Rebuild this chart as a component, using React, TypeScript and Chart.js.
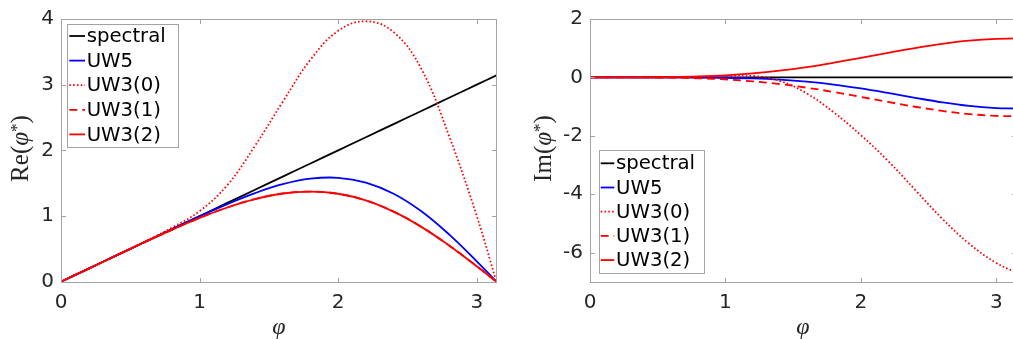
import React, { useEffect, useRef } from "react";
import { Chart, registerables } from "chart.js";

Chart.register(...registerables);

// ---------- data ----------
const phi = [0, 0.2, 0.4, 0.6, 0.8, 1.0, 1.2, 1.4, 1.6, 1.8, 2.0, 2.2, 2.4, 2.6, 2.8, 3.0, 3.1416];

const seriesNames = ["spectral", "UW5", "UW3(0)", "UW3(1)", "UW3(2)"];

// Real parts
const spectralRe = [0, 0.2, 0.4, 0.6, 0.8, 1.0, 1.2, 1.4, 1.6, 1.8, 2.0, 2.2, 2.4, 2.6, 2.8, 3.0, 3.1416];
const uw5Re = [0, 0.2, 0.4, 0.6, 0.799, 0.994, 1.181, 1.349, 1.484, 1.568, 1.582, 1.509, 1.339, 1.072, 0.72, 0.309, 0];
const uw30Re = [0, 0.2, 0.4, 0.607, 0.822, 1.075, 1.47, 2.07, 2.74, 3.38, 3.82, 3.965, 3.8, 3.24, 2.22, 1.0, 0];
const uw31Re = [0, 0.2, 0.4, 0.598, 0.79, 0.971, 1.13, 1.258, 1.343, 1.372, 1.339, 1.237, 1.067, 0.835, 0.552, 0.235, 0];
const uw32Re = [0, 0.2, 0.4, 0.598, 0.79, 0.971, 1.13, 1.258, 1.343, 1.372, 1.339, 1.237, 1.067, 0.835, 0.552, 0.235, 0];

// Imaginary parts
const spectralIm = [0, 0, 0, 0, 0, 0, 0, 0, 0, 0, 0, 0, 0, 0, 0, 0, 0];
const uw5Im = [0, 0, 0, -0.001, -0.004, -0.013, -0.035, -0.076, -0.145, -0.246, -0.379, -0.534, -0.699, -0.854, -0.977, -1.051, -1.067];
const uw30Im = [0, 0, 0, 0.003, 0.012, 0.035, 0.05, -0.12, -0.55, -1.2, -1.98, -2.86, -3.85, -4.84, -5.7, -6.36, -6.67];
const uw31Im = [0, 0, -0.002, -0.01, -0.031, -0.07, -0.136, -0.23, -0.353, -0.502, -0.668, -0.841, -1.006, -1.149, -1.257, -1.32, -1.333];
const uw32Im = [0, 0, 0.002, 0.01, 0.031, 0.07, 0.136, 0.23, 0.353, 0.502, 0.668, 0.841, 1.006, 1.149, 1.257, 1.32, 1.333];

// Ticks
const xTicks = [0, 1, 2, 3];
const reTicks = [0, 1, 2, 3, 4];
const imTicks = [-6, -4, -2, 0, 2];

// ---------- styling ----------
const AXIS_GRAY = "#a3a3a3";
const TICK_TEXT = "#262626";
const SANS = "'DejaVu Sans', sans-serif";
const SERIF = "'Liberation Serif', 'DejaVu Serif', serif";

const lineStyles = [
  { color: "#000000", dash: [] as number[] },
  { color: "#0000ff", dash: [] as number[] },
  { color: "#ff0000", dash: [1.6, 2.2] },
  { color: "#ff0000", dash: [8, 5] },
  { color: "#ff0000", dash: [] as number[] },
];

function makeDatasets(values: number[][]) {
  return values.map((vals, i) => ({
    label: seriesNames[i],
    data: phi.map((x, j) => ({ x, y: vals[j] })),
    borderColor: lineStyles[i].color,
    borderDash: lineStyles[i].dash,
    borderWidth: 1.8,
    pointRadius: 0,
    fill: false,
    tension: 0.4,
    order: 5 - i,
  }));
}

type LegendCfg = {
  left: number; top: number; width: number; height: number;
  s0: number; s1: number; tx: number; row0: number; step: number;
};

type TitleCfg = {
  yName: string; yBaseX: number; yCenterY: number;
  xCenterX: number; xBaseY: number;
};

function drawParts(ctx: CanvasRenderingContext2D, parts: { t: string; font: string; dy: number }[]) {
  let total = 0;
  const widths = parts.map((p) => {
    ctx.font = p.font;
    const w = ctx.measureText(p.t).width;
    total += w;
    return w;
  });
  let x = -total / 2;
  parts.forEach((p, i) => {
    ctx.font = p.font;
    ctx.fillText(p.t, x, p.dy);
    x += widths[i];
  });
}

function makePlugins(legend: LegendCfg, titles: TitleCfg, yTicks: number[]) {
  const boxPlugin = {
    id: "boxAxes",
    afterDatasetsDraw(chart: any) {
      const { ctx, chartArea, scales } = chart;
      const l = Math.round(chartArea.left) + 0.5;
      const r = Math.round(chartArea.right) + 0.5;
      const t = Math.round(chartArea.top) + 0.5;
      const b = Math.round(chartArea.bottom) + 0.5;
      ctx.save();
      ctx.strokeStyle = AXIS_GRAY;
      ctx.lineWidth = 1;
      ctx.setLineDash([]);
      ctx.strokeRect(l, t, r - l, b - t);
      const tl = 4.5;
      ctx.beginPath();
      xTicks.forEach((v) => {
        const px = Math.round(scales.x.getPixelForValue(v)) + 0.5;
        ctx.moveTo(px, b); ctx.lineTo(px, b - tl);
        ctx.moveTo(px, t); ctx.lineTo(px, t + tl);
      });
      yTicks.forEach((v) => {
        const py = Math.round(scales.y.getPixelForValue(v)) + 0.5;
        ctx.moveTo(l, py); ctx.lineTo(l + tl, py);
        ctx.moveTo(r, py); ctx.lineTo(r - tl, py);
      });
      ctx.stroke();
      ctx.restore();
    },
    afterDraw(chart: any) {
      const { ctx } = chart;
      ctx.save();
      // legend
      ctx.fillStyle = "#ffffff";
      ctx.fillRect(legend.left, legend.top, legend.width, legend.height);
      ctx.strokeStyle = AXIS_GRAY;
      ctx.lineWidth = 1;
      ctx.strokeRect(Math.round(legend.left) + 0.5, Math.round(legend.top) + 0.5, Math.round(legend.width), Math.round(legend.height));
      chart.data.datasets.forEach((ds: any, i: number) => {
        const y = legend.top + legend.row0 + i * legend.step;
        ctx.beginPath();
        ctx.strokeStyle = ds.borderColor;
        ctx.lineWidth = 1.8;
        ctx.setLineDash(ds.borderDash || []);
        ctx.moveTo(legend.left + legend.s0, y);
        ctx.lineTo(legend.left + legend.s1, y);
        ctx.stroke();
        ctx.setLineDash([]);
        ctx.fillStyle = "#000000";
        ctx.font = `19.7px ${SANS}`;
        ctx.textAlign = "left";
        ctx.textBaseline = "middle";
        ctx.fillText(ds.label, legend.left + legend.tx, y + 1);
      });
      // y title
      ctx.fillStyle = "#262626";
      ctx.textAlign = "left";
      ctx.textBaseline = "alphabetic";
      ctx.save();
      ctx.translate(titles.yBaseX, titles.yCenterY);
      ctx.rotate(-Math.PI / 2);
      drawParts(ctx, [
        { t: titles.yName + "(", font: `25px ${SERIF}`, dy: 0 },
        { t: "\u03C6", font: `italic 25px ${SERIF}`, dy: 0 },
        { t: "*", font: `17px ${SERIF}`, dy: -6 },
        { t: ")", font: `25px ${SERIF}`, dy: 0 },
      ]);
      ctx.restore();
      // x title
      ctx.save();
      ctx.translate(titles.xCenterX, titles.xBaseY);
      drawParts(ctx, [{ t: "\u03C6", font: `italic 24px ${SERIF}`, dy: 0 }]);
      ctx.restore();
      ctx.restore();
    },
  };
  return [boxPlugin];
}

function makeConfig(
  values: number[][],
  yMin: number, yMax: number, yTicks: number[],
  yAxisWidth: number, padRight: number,
  legend: LegendCfg, titles: TitleCfg
): any {
  return {
    type: "line",
    data: { datasets: makeDatasets(values) },
    options: {
      animation: false,
      responsive: false,
      maintainAspectRatio: false,
      devicePixelRatio: 1,
      layout: { padding: { left: 0, right: padRight, top: 15.3, bottom: 0 } },
      plugins: { legend: { display: false }, tooltip: { enabled: false }, title: { display: false } },
      scales: {
        x: {
          type: "linear",
          min: 0,
          max: Math.PI,
          grid: { display: false, drawTicks: false },
          border: { display: false },
          afterBuildTicks: (s: any) => { s.ticks = xTicks.map((v) => ({ value: v })); },
          afterFit: (s: any) => { s.height = 339 - 281.7; },
          ticks: {
            color: TICK_TEXT,
            font: { family: SANS, size: 20 },
            padding: 9,
            maxRotation: 0,
            autoSkip: false,
          },
        },
        y: {
          type: "linear",
          min: yMin,
          max: yMax,
          grid: { display: false, drawTicks: false },
          border: { display: false },
          afterBuildTicks: (s: any) => { s.ticks = yTicks.map((v) => ({ value: v })); },
          afterFit: (s: any) => { s.width = yAxisWidth; },
          ticks: {
            color: TICK_TEXT,
            font: { family: SANS, size: 20 },
            padding: 7,
            autoSkip: false,
          },
        },
      },
    },
    plugins: makePlugins(legend, titles, yTicks),
  };
}

function Panel(props: { config: any; left: number; width: number }) {
  const ref = useRef<HTMLCanvasElement | null>(null);
  useEffect(() => {
    if (!ref.current) return;
    const chart = new Chart(ref.current, props.config);
    return () => chart.destroy();
  }, []);
  return (
    <canvas
      ref={ref}
      width={props.width}
      height={339}
      style={{ position: "absolute", left: props.left, top: 0, width: props.width, height: 339 }}
    />
  );
}

export default function App() {
  const leftConfig = makeConfig(
    [spectralRe, uw5Re, uw30Re, uw31Re, uw32Re],
    0, 4, reTicks, 61, 506 - 496.4,
    { left: 66.7, top: 24, width: 110.6, height: 122.7, s0: 2.6, s1: 18.3, tx: 20, row0: 12, step: 24.6 },
    { yName: "Re", yBaseX: 28, yCenterY: 148.5, xCenterX: 279, xBaseY: 334 }
  );
  const rightConfig = makeConfig(
    [spectralIm, uw5Im, uw30Im, uw31Im, uw32Im],
    -7, 2, imTicks, 84, 520 - 509.5,
    { left: 93.3, top: 150, width: 105, height: 123.3, s0: 1.4, s1: 15, tx: 16.7, row0: 13.3, step: 24.2 },
    { yName: "Im", yBaseX: 45, yCenterY: 148.5, xCenterX: 296.8, xBaseY: 334 }
  );
  return (
    <div style={{ position: "fixed", left: 0, top: 0, width: 1013, height: 339, overflow: "hidden", background: "#ffffff" }}>
      <Panel config={leftConfig} left={0} width={506} />
      <Panel config={rightConfig} left={506} width={520} />
    </div>
  );
}
